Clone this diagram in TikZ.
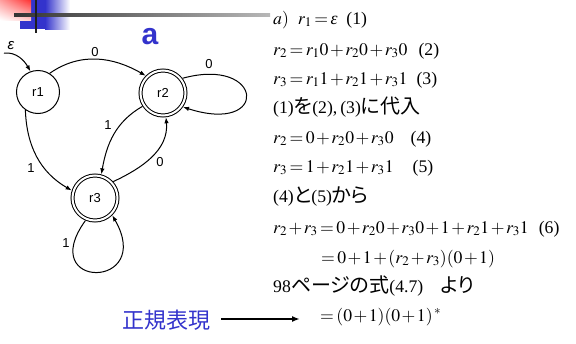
\documentclass[tikz,border=0pt]{standalone}
\usepackage{mathptmx}
\usepackage[no-math]{fontspec}
\setmainfont{Liberation Serif}
\setsansfont{Liberation Sans}
\newfontfamily\jp[RawFeature=+palt]{Noto Sans CJK JP}
\usetikzlibrary{arrows.meta,shadings}
\definecolor{pblue}{RGB}{51,51,204}
\definecolor{rstrong}{RGB}{255,50,50}
\definecolor{rmid}{RGB}{255,160,160}
\definecolor{rlight}{RGB}{255,205,205}
\newcommand\J[1]{{\fontsize{20}{22}\jp #1}}
\newcommand\veps{\textit{ε}}
\medmuskip=1.5mu
\thickmuskip=2.5mu
\tikzset{
  st/.style={circle, draw, line width=1pt, minimum size=43pt, inner sep=0pt,
    font=\sffamily\fontsize{13}{13}\selectfont},
  acc/.style={st, double, double distance=2pt, minimum size=45pt, outer sep=2pt},
  edge/.style={line width=1pt, -{Latex[length=6pt,width=4.5pt]}},
  lab/.style={font=\sffamily\fontsize{13}{13}\selectfont, inner sep=0pt},
  eq/.style={anchor=base west, inner sep=0pt, font=\fontsize{17.7}{20}\selectfont},
}
\begin{document}
\begin{tikzpicture}[x=1pt,y=1pt]
\useasboundingbox[fill=white] (0,0) rectangle (576,-343);
% top-left decoration
\fill[pblue] (20,0) rectangle (45,-29);
\shade[left color=pblue, right color=white] (45,0) rectangle (70,-29);
\shade[upper right=rstrong, upper left=rmid, lower right=rlight, lower left=white] (0,0) rectangle (31,-20);
\shade[left color=black!80, right color=black!28] (14,-13.8) rectangle (270,-16.6);
\fill[black!88] (35,0) rectangle (37.4,-33);
% title
\node[font=\sffamily\bfseries\fontsize{30}{30}\selectfont, text=pblue, inner sep=0pt] (ttl) at (150,-37) {a};
% automaton
\node[st] (r1) at (38,-92) {r1};
\node[acc] (r2) at (163,-93) {r2};
\node[acc] (r3) at (95,-198) {r3};
\coordinate (init) at (4,-53);
\node[lab, font=\sffamily\itshape\fontsize{15}{15}\selectfont] (eps) at (11,-46) {ε};
\draw[edge] (init) to[out=5,in=120] (r1.110);
\draw[edge] (r1.58) to[out=35,in=150] (r2.135);
\draw[edge] (r2.37) .. controls (264,-56) and (270,-135) .. (r2.-35);
\draw[edge] (r2.213) to[out=210,in=80] (r3.75);
\draw[edge] (r3.42) to[out=25,in=-85] (r2.-83);
\draw[edge] (r1.235) to[out=-88,in=150] (r3.162);
\draw[edge] (r3.247) .. controls (35,-290) and (155,-290) .. (r3.-45);
\node[lab] (l12) at (95,-52) {0};
\node[lab] (l22) at (209,-64) {0};
\node[lab] (l23) at (108,-125) {1};
\node[lab] (l32) at (160,-162) {0};
\node[lab] (l13) at (31,-168) {1};
\node[lab] (l33) at (66,-243) {1};
% equations
\node[eq] (e1) at (273,-24) {$a)$\hspace{9pt}$r_1=\hbox{\veps}$\hspace{9pt}(1)};
\node[eq] (e2) at (273,-55) {$r_2=r_10+r_20+r_30$\hspace{11pt}(2)};
\node[eq] (e3) at (273,-84) {$r_3=r_11+r_21+r_31$\hspace{9pt}(3)};
\node[eq] (e4) at (273,-113) {(1)\J{を}(2),\,(3)\J{に代入}};
\node[eq] (e5) at (273,-143) {$r_2=0+r_20+r_30$\hspace{17pt}(4)};
\node[eq] (e6) at (273,-172) {$r_3=1+r_21+r_31$\hspace{19pt}(5)};
\node[eq] (e7) at (273,-202) {(4)\J{と}(5)\J{から}};
\node[eq] (e8) at (273,-233) {$r_2+r_3=0+r_20+r_30+1+r_21+r_31$\hspace{10pt}(6)};
\node[eq] (e9) at (321,-263) {$=0+1+(r_2+r_3)(0+1)$};
\node[eq] (e10) at (273,-292) {98\J{ページの式}(4.7)\hspace{17pt}\J{より}};
\node[eq] (e11) at (320,-321) {$=(0+1)(0+1)^{\,*}$};
% label and arrow
\node[font=\jp\fontsize{22}{22}\selectfont, text=pblue, inner sep=0pt] (seiki) at (166,-320) {正規表現};
\coordinate (arrEnd) at (300,-319);
\draw[line width=1.8pt, -{Latex[length=8pt,width=6pt]}] ([xshift=11pt]seiki.east |- arrEnd) -- (arrEnd);
\end{tikzpicture}
\end{document}
